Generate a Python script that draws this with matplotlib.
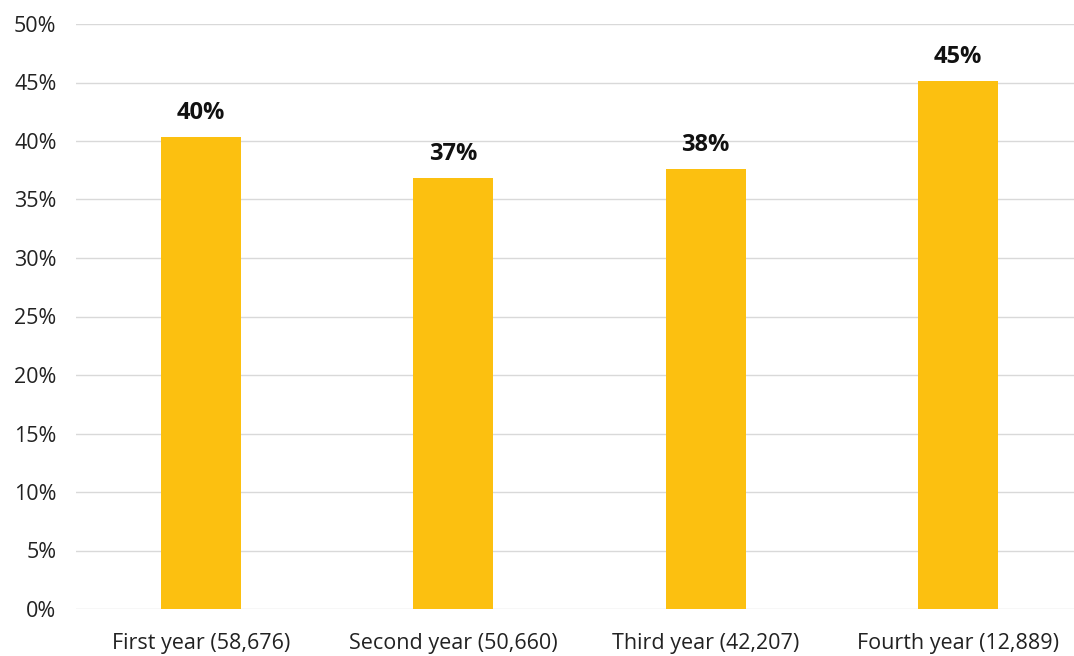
import matplotlib
matplotlib.use("Agg")
import matplotlib.pyplot as plt
from matplotlib.ticker import MultipleLocator, FuncFormatter

categories = ["First year (58,676)", "Second year (50,660)", "Third year (42,207)", "Fourth year (12,889)"]
shares = [40.3, 36.8, 37.6, 45.1]

plt.rcParams['font.family'] = ['Open Sans', 'DejaVu Sans']

fig = plt.figure(figsize=(10.74, 6.56), dpi=100)
ax = fig.add_axes([76 / 1074, 47 / 656, 998 / 1074, 585 / 656])

x = range(len(categories))
bars = ax.bar(x, shares, width=0.317, color="#FCC010", zorder=3)

for xi, v in zip(x, shares):
    ax.annotate(f"{v:.0f}%", (xi, v), xytext=(0, 9), textcoords="offset points",
                ha="center", va="bottom", fontsize=17, fontweight="bold", color="#111111")

ax.set_ylim(0, 50)
ax.set_xlim(-0.495, 3.46)
ax.yaxis.set_major_locator(MultipleLocator(5))
ax.yaxis.set_major_formatter(FuncFormatter(lambda v, p: f"{v:.0f}%"))
ax.set_xticks(list(x))
ax.set_xticklabels(categories)
ax.grid(axis="y", color="#d9d9d9", linewidth=1, zorder=0)
for s in ax.spines.values():
    s.set_visible(False)
ax.tick_params(axis="both", length=0, labelsize=15.5, colors="#222222")
ax.tick_params(axis="y", pad=14)
ax.tick_params(axis="x", pad=17)

fig.savefig("out.png", dpi=100, facecolor="white")
